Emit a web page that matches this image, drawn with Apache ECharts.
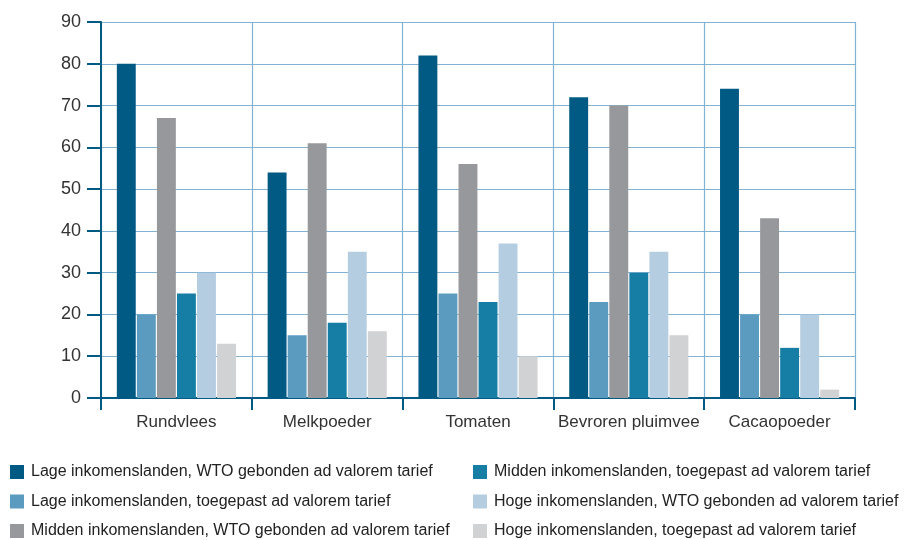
<!DOCTYPE html>
<html>
<head>
<meta charset="utf-8">
<script src="https://cdn.jsdelivr.net/npm/echarts@6/dist/echarts.min.js"></script>
<style>html,body{margin:0;padding:0;background:#fff}#c{width:905px;height:540px}</style>
</head>
<body>
<div id="c"></div>
<script>
const categories = ['Rundvlees', 'Melkpoeder', 'Tomaten', 'Bevroren pluimvee', 'Cacaopoeder'];
const seriesNames = [
  'Lage inkomenslanden, WTO gebonden ad valorem tarief',
  'Lage inkomenslanden, toegepast ad valorem tarief',
  'Midden inkomenslanden, WTO gebonden ad valorem tarief',
  'Midden inkomenslanden, toegepast ad valorem tarief',
  'Hoge inkomenslanden, WTO gebonden ad valorem tarief',
  'Hoge inkomenslanden, toegepast ad valorem tarief'
];
const lageWTO = [80, 54, 82, 72, 74];
const lageToegepast = [20, 15, 25, 23, 20];
const middenWTO = [67, 61, 56, 70, 43];
const middenToegepast = [25, 18, 23, 30, 12];
const hogeWTO = [30, 35, 37, 35, 20];
const hogeToegepast = [13, 16, 10, 15, 2];
const colors = ['#005a83', '#5b9bbf', '#97989c', '#167ea5', '#b5cde0', '#d1d2d4'];
const values = [lageWTO, lageToegepast, middenWTO, middenToegepast, hogeWTO, hogeToegepast];

const font = 'Liberation Sans';
const chart = echarts.init(document.getElementById('c'), null, {renderer: 'canvas'});
const legendBase = {
  orient: 'vertical', top: 464, height: 80, padding: 0,
  itemWidth: 14, itemHeight: 14, itemGap: 13.5,
  icon: 'rect', selectedMode: false,
  textStyle: {fontFamily: font, fontSize: 16, color: '#222', padding: [0, 0, 0, 2]}
};
chart.setOption({
  animation: false,
  color: colors,
  legend: [
    Object.assign({}, legendBase, {left: 10, data: seriesNames.slice(0, 3)}),
    Object.assign({}, legendBase, {left: 473, data: seriesNames.slice(3, 6)})
  ],
  grid: {left: 101, right: 50, top: 22, bottom: 142, containLabel: false},
  xAxis: {
    type: 'category', data: categories,
    axisLine: {lineStyle: {color: '#005a83', width: 2}},
    axisTick: {show: true, interval: 0, length: 12, lineStyle: {color: '#005a83', width: 2}},
    axisLabel: {interval: 0, fontFamily: font, fontSize: 17, color: '#333', margin: 16},
    splitLine: {show: true, interval: 0, lineStyle: {color: '#82b3d2', width: 1.2}}
  },
  yAxis: {
    type: 'value', min: 0, max: 90, interval: 10,
    axisLine: {show: true, lineStyle: {color: '#005a83', width: 2}},
    axisTick: {show: true, length: 14, lineStyle: {color: '#005a83', width: 2}},
    axisLabel: {fontFamily: font, fontSize: 18, color: '#333', margin: 20},
    splitLine: {show: true, lineStyle: {color: '#82b3d2', width: 1.2}}
  },
  series: values.map((v, i) => ({
    name: seriesNames[i], type: 'bar', data: v,
    barGap: '6%', barCategoryGap: '21%',
    itemStyle: {color: colors[i]}
  }))
});
</script>
</body>
</html>
